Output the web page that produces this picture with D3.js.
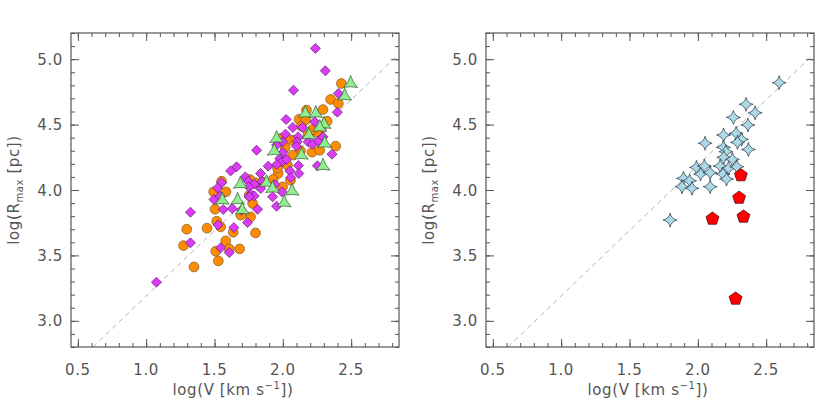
<!DOCTYPE html>
<html><head><meta charset="utf-8">
<script src="https://cdn.jsdelivr.net/npm/d3@7"></script>
<style>
body{margin:0;background:#fff;}
svg text{font-family:"DejaVu Sans",sans-serif;fill:#555;}
</style></head>
<body><svg id="c" width="830" height="415"></svg>
<script>
// ---- data (log V, log Rmax) ----
const circlesX = [2.428,2.350,2.406,2.294,2.173,2.119,2.168,2.324,2.282,2.246,2.185,2.068,2.027,2.017,2.129,2.214,2.270,2.387,1.983,2.073,2.034,1.966,1.961,2.056,1.998,1.929,1.852,1.798,1.759,1.779,1.754,1.552,1.494,1.584,1.504,1.764,1.693,1.516,1.545,1.445,1.297,1.637,1.800,1.582,1.273,1.608,1.684,1.509,1.528,1.350,2.217,2.136];
const circlesY = [4.814,4.692,4.661,4.615,4.610,4.541,4.534,4.526,4.470,4.444,4.424,4.381,4.386,4.325,4.299,4.289,4.304,4.335,4.393,4.266,4.190,4.126,4.167,4.075,4.024,4.080,4.062,4.055,4.080,3.897,3.960,4.067,3.986,3.986,3.853,3.795,3.807,3.761,3.718,3.708,3.700,3.677,3.672,3.611,3.575,3.550,3.550,3.532,3.458,3.412,4.462,4.488];
const diamondsX = [2.238,2.311,2.078,2.406,2.399,2.024,2.073,2.144,2.234,2.019,2.112,2.105,2.100,2.185,2.217,2.260,2.294,1.998,1.954,1.808,2.360,2.253,2.000,1.978,1.995,2.027,1.893,1.956,2.114,2.051,2.117,2.058,1.662,1.618,1.725,1.747,1.837,1.847,1.791,1.839,1.942,1.993,1.550,1.523,1.496,1.540,1.752,1.766,1.791,1.754,1.925,1.954,1.564,1.630,1.698,1.815,1.324,1.742,1.526,1.642,1.324,1.545,1.608,1.075];
const diamondsY = [5.082,4.911,4.763,4.738,4.595,4.539,4.478,4.478,4.521,4.427,4.406,4.368,4.335,4.368,4.350,4.376,4.406,4.368,4.343,4.304,4.274,4.185,4.286,4.241,4.215,4.233,4.182,4.195,4.187,4.146,4.126,4.095,4.177,4.146,4.100,4.067,4.126,4.065,4.044,4.011,4.042,3.986,4.057,4.016,3.927,3.953,4.024,3.968,3.955,3.948,3.948,3.876,3.851,3.858,3.846,3.853,3.830,3.751,3.733,3.713,3.596,3.558,3.522,3.295];
const trianglesX = [2.496,2.453,2.165,2.241,2.302,2.270,2.190,2.307,1.954,1.937,2.136,2.294,1.689,1.881,1.925,2.068,1.557,1.669,1.703,2.010];
const trianglesY = [4.814,4.717,4.585,4.585,4.501,4.478,4.419,4.355,4.393,4.297,4.266,4.182,4.044,4.055,4.011,3.991,3.922,3.922,3.846,3.902];
const starsX = [2.595,2.353,2.419,2.260,2.366,2.188,2.280,2.320,2.290,2.370,2.053,2.188,2.205,2.190,2.253,2.163,2.224,2.285,1.990,2.048,2.020,2.090,2.183,2.210,1.895,1.940,1.884,1.957,2.090,1.797];
const starsY = [4.820,4.655,4.590,4.555,4.497,4.420,4.433,4.387,4.364,4.310,4.357,4.326,4.293,4.250,4.234,4.183,4.166,4.178,4.173,4.183,4.122,4.132,4.122,4.084,4.089,4.071,4.025,4.013,4.025,3.770];
const pentX = [2.315,2.302,2.107,2.334,2.276];
const pentY = [4.112,3.940,3.780,3.796,3.169];
const xTicks = [0.5,1.0,1.5,2.0,2.5];
const yTicks = [3.0,3.5,4.0,4.5,5.0];
const xDomain = [0.45,2.85], yDomain = [2.8,5.2];
const lineIntercept = 2.19; // dashed reference line y = x + 2.19

const svg = d3.select("#c");
const yTop = 33, yBot = 347;
const panels = [{x0:71,x1:399},{x0:486,x1:814}];

function concaveTri(R){
  const pts=[-90,30,150].map(a=>[R*Math.cos(a*Math.PI/180),R*Math.sin(a*Math.PI/180)]);
  let p=`M${pts[0][0]},${pts[0][1]}`;
  for(let i=0;i<3;i++){
    const a=pts[i],b=pts[(i+1)%3];
    const mx=(a[0]+b[0])/2,my=(a[1]+b[1])/2;
    const cx=mx*0.6,cy=my*0.6;
    p+=`Q${cx},${cy} ${b[0]},${b[1]}`;
  }
  return p+"Z";
}
function star4(R){
  const c=R*0.18;
  return `M0,${-R}Q${c},${-c} ${R},0Q${c},${c} 0,${R}Q${-c},${c} ${-R},0Q${-c},${-c} 0,${-R}Z`;
}
function pentagon(R){
  const pts=d3.range(5).map(i=>{const a=(-90+72*i)*Math.PI/180;return [R*Math.cos(a),R*Math.sin(a)];});
  return "M"+pts.map(p=>p.join(",")).join("L")+"Z";
}
function diamond(R){return `M0,${-R}L${R},0L0,${R}L${-R},0Z`;}

function makePanel(p){
  const x=d3.scaleLinear().domain(xDomain).range([p.x0,p.x1]);
  const y=d3.scaleLinear().domain(yDomain).range([yBot,yTop]);
  const g=svg.append("g");
  const clipId="clip"+p.x0;
  svg.append("clipPath").attr("id",clipId).append("rect")
    .attr("x",p.x0).attr("y",yTop).attr("width",p.x1-p.x0).attr("height",yBot-yTop);
  const lx0=Math.max(xDomain[0],yDomain[0]-lineIntercept), lx1=Math.min(xDomain[1],yDomain[1]-lineIntercept);
  g.append("line").attr("clip-path",`url(#${clipId})`)
    .attr("x1",x(lx0)).attr("y1",y(lx0+lineIntercept))
    .attr("x2",x(lx1)).attr("y2",y(lx1+lineIntercept))
    .attr("stroke","#b4b4b4").attr("stroke-width",1).attr("stroke-dasharray","5,4");
  const minorX=d3.range(5,29).map(v=>v/10), minorY=d3.range(28,53).map(v=>v/10);
  const mk=(axis,ticks,len,tr)=>{
    const a=g.append("g").attr("transform",tr).call(axis.tickValues(ticks).tickSize(len).tickFormat(""));
    a.select(".domain").remove();a.selectAll("line").attr("stroke","#555");
  };
  mk(d3.axisTop(x),minorX,4,`translate(0,${yBot})`);
  mk(d3.axisTop(x),xTicks,8,`translate(0,${yBot})`);
  mk(d3.axisBottom(x),minorX,4,`translate(0,${yTop})`);
  mk(d3.axisBottom(x),xTicks,8,`translate(0,${yTop})`);
  mk(d3.axisRight(y),minorY,4,`translate(${p.x0},0)`);
  mk(d3.axisRight(y),yTicks,8,`translate(${p.x0},0)`);
  mk(d3.axisLeft(y),minorY,4,`translate(${p.x1},0)`);
  mk(d3.axisLeft(y),yTicks,8,`translate(${p.x1},0)`);
  g.append("rect").attr("x",p.x0).attr("y",yTop).attr("width",p.x1-p.x0).attr("height",yBot-yTop)
    .attr("fill","none").attr("stroke","#555").attr("stroke-width",1.2);
  g.selectAll(".xl").data(xTicks).enter().append("text")
    .attr("x",d=>x(d)).attr("y",375).attr("text-anchor","middle")
    .attr("font-size",15).attr("letter-spacing",0.6).text(d=>d.toFixed(1));
  g.selectAll(".yl").data(yTicks).enter().append("text")
    .attr("x",p.x0-8).attr("y",d=>y(d)+5.5).attr("text-anchor","end")
    .attr("font-size",15).attr("letter-spacing",0.6).text(d=>d.toFixed(1));
  const xt=g.append("text").attr("x",(p.x0+p.x1)/2-2).attr("y",395).attr("text-anchor","middle")
    .attr("font-size",15).attr("letter-spacing",0.6);
  xt.append("tspan").text("log(V [km s");
  xt.append("tspan").attr("font-size",10).attr("dy",-6).text("−1");
  xt.append("tspan").attr("dy",6).text("])");
  const yt=g.append("text").attr("transform",`translate(${p.x0-52},${(yTop+yBot)/2}) rotate(-90)`)
    .attr("text-anchor","middle").attr("font-size",15).attr("letter-spacing",0.6);
  yt.append("tspan").text("log(R");
  yt.append("tspan").attr("font-size",10).attr("dy",4).text("max");
  yt.append("tspan").attr("dy",-4).text(" [pc])");
  return {x,y,g};
}

const L=makePanel(panels[0]);
const R=makePanel(panels[1]);

function plot(P,xs,ys,path,fill,stroke){
  P.g.append("g").selectAll("path").data(xs.map((v,i)=>[v,ys[i]])).enter().append("path")
    .attr("transform",d=>`translate(${P.x(d[0])},${P.y(d[1])})`)
    .attr("d",path).attr("fill",fill).attr("stroke",stroke).attr("stroke-width",0.7);
}
plot(L,circlesX,circlesY,d3.symbol(d3.symbolCircle,Math.PI*4.9*4.9)(),"#ff8c00","#7a5a3a");
plot(L,diamondsX,diamondsY,diamond(5),"#dc3cf5","#5a1a6a");
plot(L,trianglesX,trianglesY,concaveTri(8),"#90ee90","#335533");
plot(R,starsX,starsY,star4(7),"#add8e6","#223344");
plot(R,pentX,pentY,pentagon(6.8),"#ff0000","#400000");
</script></body></html>
